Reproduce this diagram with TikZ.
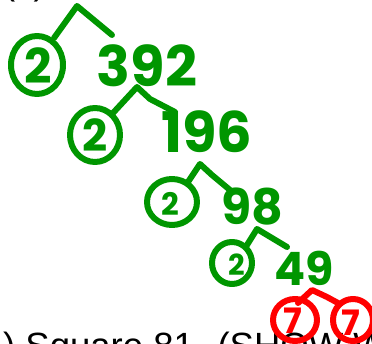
\documentclass[tikz,border=0pt]{standalone}
\usepackage{fontspec}
\setmainfont{Liberation Sans}
\newfontfamily\hand{Poppins}
\definecolor{pen}{RGB}{0,150,0}
\definecolor{redpen}{RGB}{255,0,0}
\tikzset{
  stroke/.style={draw=pen, line width=6pt, line cap=round, line join=round},
  redstroke/.style={draw=redpen, line width=6pt, line cap=round, line join=round},
  digit/.style={text=pen, inner sep=0pt, font=\hand\bfseries},
  reddigit/.style={text=redpen, inner sep=0pt, font=\hand\bfseries},
  printed/.style={anchor=base west, inner sep=0pt, font=\fontsize{36.5}{40}\selectfont},
}
\begin{document}
\begin{tikzpicture}[x=1pt,y=-1pt]
\useasboundingbox (0,0) rectangle (372,344);
% cut-off heading and bottom line of text
\node[printed] (head) at (3,-5.5) {(c)};
\node[printed] (task) at (3,359) {) Square 81. (SHOW WORK)};
% level 1
\draw[stroke] (37,65) ellipse (26pt and 29pt);
\node[digit, font=\hand\bfseries\fontsize{48}{50}\selectfont] (t1) at (38,66) {2};
\node[digit, font=\hand\bfseries\fontsize{56}{60}\selectfont] (n1) at (147,66) {392};
\coordinate (a1) at (77,6);
\coordinate (l1) at (54,38);
\coordinate (r1) at (112,35);
\draw[stroke] (l1) -- (a1) -- (r1);
% level 2
\draw[stroke] (95,135) ellipse (25pt and 27pt);
\node[digit, font=\hand\bfseries\fontsize{44}{46}\selectfont] (t2) at (95,135) {2};
\node[digit, font=\hand\bfseries\fontsize{56}{60}\selectfont] (n2) at (207,132) {196};
\coordinate (a2) at (137,87);
\coordinate (l2) at (113,113);
\coordinate (r2) at (175,112);
\draw[stroke] (l2) -- (a2) -- (150,99) -- (r2);
% level 3
\draw[stroke] (172,202) ellipse (25pt and 23pt);
\node[digit, font=\hand\bfseries\fontsize{31}{33}\selectfont] (t3) at (170,204) {2};
\node[digit, font=\hand\bfseries\fontsize{49}{52}\selectfont] (n3) at (252,207) {98};
\coordinate (a3) at (200,164);
\coordinate (l3) at (188,182);
\coordinate (r3) at (230,190);
\draw[stroke] (l3) -- (a3) -- (212,175) -- (r3);
% level 4
\draw[stroke] (232,263) ellipse (20pt and 21pt);
\node[digit, font=\hand\bfseries\fontsize{29}{31}\selectfont] (t4) at (237,265) {2};
\node[digit, font=\hand\bfseries\fontsize{46}{48}\selectfont] (n4) at (304,268) {49};
\coordinate (a4) at (257,229);
\coordinate (l4) at (247,245);
\coordinate (r4) at (287,247);
\draw[stroke] (l4) -- (a4) -- (r4);
% level 5 (red)
\draw[redstroke] (295,320) ellipse (22pt and 21pt);
\node[reddigit, font=\hand\bfseries\fontsize{35}{37}\selectfont] (s1) at (293,321) {7};
\draw[redstroke] (353,320) ellipse (20pt and 21pt);
\node[reddigit, font=\hand\bfseries\fontsize{35}{37}\selectfont] (s2) at (351,323) {7};
\coordinate (a5) at (312,290);
\coordinate (l5) at (298,303);
\coordinate (r5) at (338,303);
\draw[redstroke] (l5) -- (a5) -- (327,297) -- (r5);
\end{tikzpicture}
\end{document}
